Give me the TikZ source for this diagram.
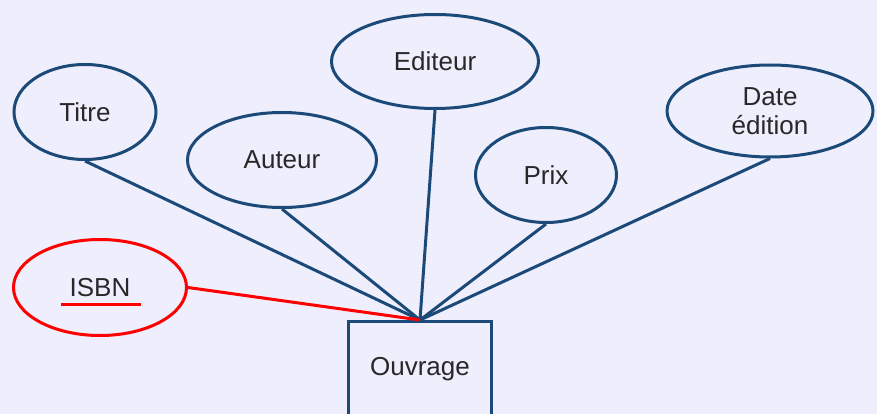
\documentclass[tikz,border=0pt]{standalone}
\usepackage{fontspec}
\setmainfont{Liberation Sans}
\usetikzlibrary{shapes.geometric}
\definecolor{bgc}{RGB}{238,238,252}
\definecolor{dblue}{RGB}{28,74,120}
\definecolor{txt}{RGB}{40,40,40}
\tikzset{
  attr/.style={ellipse, draw=dblue, line width=3pt, fill=bgc, inner sep=0pt, text=txt,
    font=\fontsize{26}{29}\selectfont, align=center},
  keyattr/.style={attr, draw=red},
  entity/.style={rectangle, draw=dblue, line width=3pt, fill=bgc, inner sep=0pt, text=txt,
    font=\fontsize{26}{29}\selectfont, minimum width=143pt, minimum height=96pt},
  link/.style={dblue, line width=3pt},
  keylink/.style={red, line width=3pt}
}
\begin{document}
\begin{tikzpicture}[x=1pt,y=-1pt]
\fill[bgc] (0,0) rectangle (877,414);
\useasboundingbox (0,0) rectangle (877,414);
\clip (0,0) rectangle (877,414);
\node[entity] (ouv) at (420,369.5) {Ouvrage};
\node[attr, minimum width=142pt, minimum height=95pt] (titre) at (85,112) {Titre};
\node[attr, minimum width=189pt, minimum height=95pt] (auteur) at (282,160) {Auteur};
\node[attr, minimum width=207pt, minimum height=94pt] (editeur) at (435,61.5) {Editeur};
\node[attr, minimum width=141pt, minimum height=95pt] (prix) at (546,175) {Prix};
\node[attr, minimum width=206pt, minimum height=92pt] (date) at (770,111) {Date\\édition};
\node[keyattr, minimum width=173pt, minimum height=96pt] (isbn) at (100,287.5) {ISBN};
\coordinate (isbnul1) at (61,304);
\coordinate (isbnul2) at (141,304);
\draw[keylink] (isbnul1) -- (isbnul2);
\draw[link] (titre.south) -- (ouv.north);
\draw[link] (auteur.south) -- (ouv.north);
\draw[link] (editeur.south) -- (ouv.north);
\draw[link] (prix.south) -- (ouv.north);
\draw[link] (date.south) -- (ouv.north);
\draw[keylink] (isbn.east) -- (ouv.north);
\end{tikzpicture}
\end{document}
